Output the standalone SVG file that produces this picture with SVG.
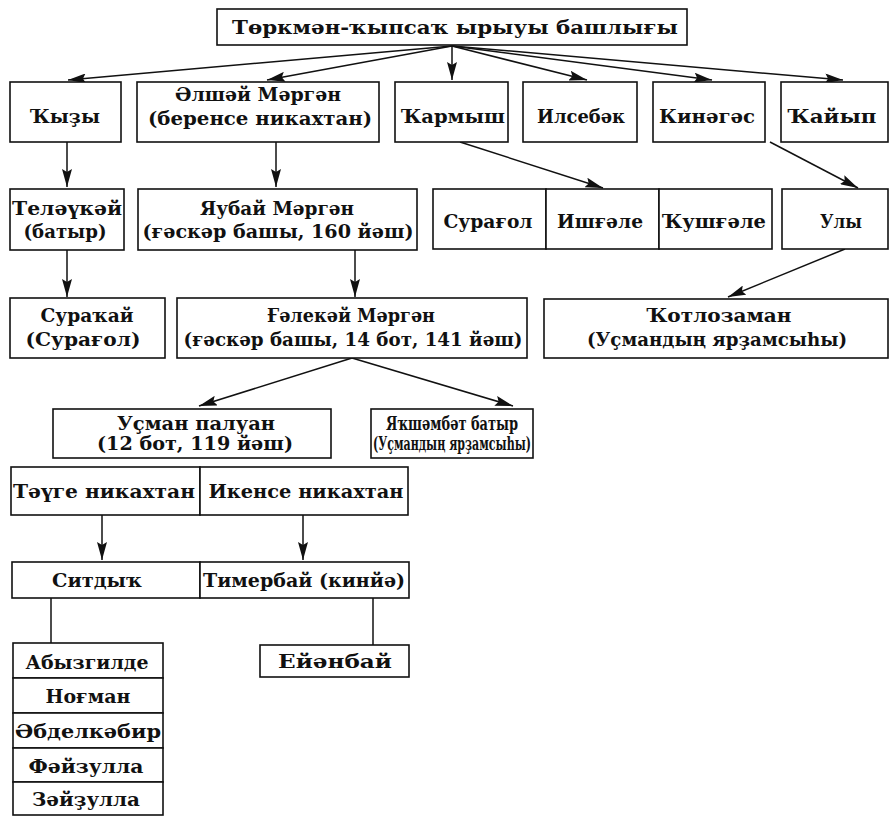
<svg xmlns="http://www.w3.org/2000/svg" width="892" height="816" viewBox="0 0 892 816">
<style>
rect{fill:#fff;stroke:#111;stroke-width:1.6}
text{font-family:"DejaVu Serif","Liberation Serif",serif;font-size:19px;font-weight:bold;fill:#111;text-anchor:middle}
.s{font-size:18px}
.c line{stroke:#111;stroke-width:1.5}
.a{marker-end:url(#ah)}
</style>
<defs>
<marker id="ah" viewBox="0 0 18 10" refX="18" refY="5" markerWidth="18" markerHeight="10" markerUnits="userSpaceOnUse" orient="auto">
<path d="M0,0 L18,5 L0,10 L3,5 Z" fill="#111"/>
</marker>
</defs>
<rect x="0" y="0" width="892" height="816" style="stroke:none"/>
<g class="c">
<line class="a" x1="452" y1="46" x2="68" y2="80"/>
<line class="a" x1="452" y1="46" x2="267" y2="80"/>
<line class="a" x1="452" y1="46" x2="452" y2="80"/>
<line class="a" x1="452" y1="46" x2="587" y2="80"/>
<line class="a" x1="452" y1="46" x2="712" y2="80"/>
<line class="a" x1="452" y1="46" x2="843" y2="80"/>
<line class="a" x1="67" y1="142" x2="67" y2="187"/>
<line class="a" x1="276" y1="142" x2="276" y2="187"/>
<line class="a" x1="460" y1="142" x2="603" y2="188"/>
<line class="a" x1="770" y1="142" x2="858" y2="188"/>
<line class="a" x1="67" y1="250" x2="67" y2="297"/>
<line class="a" x1="355" y1="250" x2="355" y2="297"/>
<line class="a" x1="845" y1="249" x2="728" y2="297"/>
<line class="a" x1="352" y1="358" x2="199" y2="406"/>
<line class="a" x1="352" y1="358" x2="513" y2="406"/>
<line class="a" x1="102" y1="515" x2="102" y2="560"/>
<line class="a" x1="303" y1="515" x2="303" y2="560"/>
<line x1="51" y1="598" x2="51" y2="643"/>
<line x1="373" y1="598" x2="373" y2="645"/>
</g>
<g id="n-top"><rect x="217" y="9" width="470" height="36"/><text x="455" y="34" textLength="446" lengthAdjust="spacingAndGlyphs">Төркмән-ҡыпсаҡ ырыуы башлығы</text></g>
<g id="n-qyzy"><rect x="10" y="82" width="111" height="60"/><text x="65" y="123" textLength="70" lengthAdjust="spacingAndGlyphs">Ҡыҙы</text></g>
<g id="n-alshay"><rect x="137" y="82" width="242" height="60"/><text x="258" y="101" textLength="166" lengthAdjust="spacingAndGlyphs">Әлшәй Мәргән</text><text x="260" y="125" textLength="224" lengthAdjust="spacingAndGlyphs">(беренсе никахтан)</text></g>
<g id="n-qarmysh"><rect x="395" y="82" width="113" height="60"/><text x="453" y="123" textLength="104" lengthAdjust="spacingAndGlyphs">Ҡармыш</text></g>
<g id="n-ilsebak"><rect x="523" y="82" width="114" height="60"/><text x="581" y="123" textLength="88" lengthAdjust="spacingAndGlyphs">Илсебәк</text></g>
<g id="n-kinagas"><rect x="653" y="82" width="112" height="60"/><text x="707" y="123" textLength="96" lengthAdjust="spacingAndGlyphs">Кинәгәс</text></g>
<g id="n-qayyp"><rect x="781" y="82" width="107" height="60"/><text x="832" y="123" textLength="89" lengthAdjust="spacingAndGlyphs">Ҡайып</text></g>
<g id="n-telaukay"><rect x="10" y="189" width="114" height="61"/><text x="67" y="215" textLength="110" lengthAdjust="spacingAndGlyphs">Теләүкәй</text><text x="65" y="238" textLength="83" lengthAdjust="spacingAndGlyphs">(батыр)</text></g>
<g id="n-yaubay"><rect x="138" y="189" width="279" height="61"/><text x="277" y="215" textLength="154" lengthAdjust="spacingAndGlyphs">Яубай Мәргән</text><text x="278" y="238" textLength="271" lengthAdjust="spacingAndGlyphs">(ғәскәр башы, 160 йәш)</text></g>
<g id="n-suragol"><rect x="433" y="189" width="113" height="60"/><text x="488" y="228" textLength="89" lengthAdjust="spacingAndGlyphs">Сурағол</text></g>
<g id="n-ishgale"><rect x="546" y="189" width="113" height="60"/><text x="600" y="228" textLength="86" lengthAdjust="spacingAndGlyphs">Ишғәле</text></g>
<g id="n-qushgale"><rect x="659" y="189" width="113" height="60"/><text x="714" y="228" textLength="104" lengthAdjust="spacingAndGlyphs">Ҡушғәле</text></g>
<g id="n-uly"><rect x="782" y="189" width="106" height="60"/><text x="841" y="228" textLength="42" lengthAdjust="spacingAndGlyphs">Улы</text></g>
<g id="n-surakay"><rect x="10" y="298" width="155" height="60"/><text x="87" y="322" textLength="93" lengthAdjust="spacingAndGlyphs">Сураҡай</text><text x="83" y="346" textLength="115" lengthAdjust="spacingAndGlyphs">(Сурағол)</text></g>
<g id="n-galekay"><rect x="177" y="298" width="350" height="60"/><text x="351" y="322" textLength="168" lengthAdjust="spacingAndGlyphs">Ғәлекәй Мәргән</text><text x="353" y="346" textLength="339" lengthAdjust="spacingAndGlyphs">(ғәскәр башы, 14 бот, 141 йәш)</text></g>
<g id="n-qotlozaman"><rect x="544" y="299" width="344" height="59"/><text x="719" y="322" textLength="145" lengthAdjust="spacingAndGlyphs">Ҡотлозаман</text><text x="717" y="346" textLength="260" lengthAdjust="spacingAndGlyphs">(Уҫмандың ярҙамсыһы)</text></g>
<g id="n-usman"><rect x="53" y="409" width="278" height="49"/><text x="196" y="430" textLength="158" lengthAdjust="spacingAndGlyphs">Уҫман палуан</text><text x="195" y="450" textLength="196" lengthAdjust="spacingAndGlyphs">(12 бот, 119 йәш)</text></g>
<g id="n-yakshambat"><rect x="371" y="409" width="162" height="49"/><text class="s" x="452" y="430" textLength="132" lengthAdjust="spacingAndGlyphs">Яҡшәмбәт батыр</text><text class="s" x="452" y="450" textLength="158" lengthAdjust="spacingAndGlyphs">(Уҫмандың ярҙамсыһы)</text></g>
<g id="n-tauge"><rect x="11" y="467" width="189" height="48"/><text x="104" y="498" textLength="182" lengthAdjust="spacingAndGlyphs">Тәүге никахтан</text></g>
<g id="n-ikense"><rect x="200" y="467" width="208" height="48"/><text x="306" y="498" textLength="195" lengthAdjust="spacingAndGlyphs">Икенсе никахтан</text></g>
<g id="n-sitdyq"><rect x="12" y="562" width="188" height="36"/><text x="97" y="587" textLength="90" lengthAdjust="spacingAndGlyphs">Ситдыҡ</text></g>
<g id="n-timerbay"><rect x="200" y="562" width="209" height="36"/><text x="304" y="587" textLength="202" lengthAdjust="spacingAndGlyphs">Тимербай (кинйә)</text></g>
<g id="n-abyzgilde"><rect x="13" y="643" width="150" height="35"/><text x="87" y="669" textLength="123" lengthAdjust="spacingAndGlyphs">Абызгилде</text></g>
<g id="n-nogman"><rect x="13" y="678" width="150" height="35"/><text x="88" y="703" textLength="85" lengthAdjust="spacingAndGlyphs">Ноғман</text></g>
<g id="n-abdelkabir"><rect x="13" y="713" width="150" height="35"/><text x="88" y="738" textLength="146" lengthAdjust="spacingAndGlyphs">Әбделкәбир</text></g>
<g id="n-fayzulla"><rect x="13" y="748" width="150" height="34"/><text x="86" y="773" textLength="115" lengthAdjust="spacingAndGlyphs">Фәйзулла</text></g>
<g id="n-zayzulla"><rect x="13" y="782" width="150" height="33"/><text x="86" y="806" textLength="108" lengthAdjust="spacingAndGlyphs">Зәйҙулла</text></g>
<g id="n-eyanbay"><rect x="260" y="645" width="149" height="32"/><text x="335" y="668" textLength="114" lengthAdjust="spacingAndGlyphs">Ейәнбай</text></g>
</svg>
